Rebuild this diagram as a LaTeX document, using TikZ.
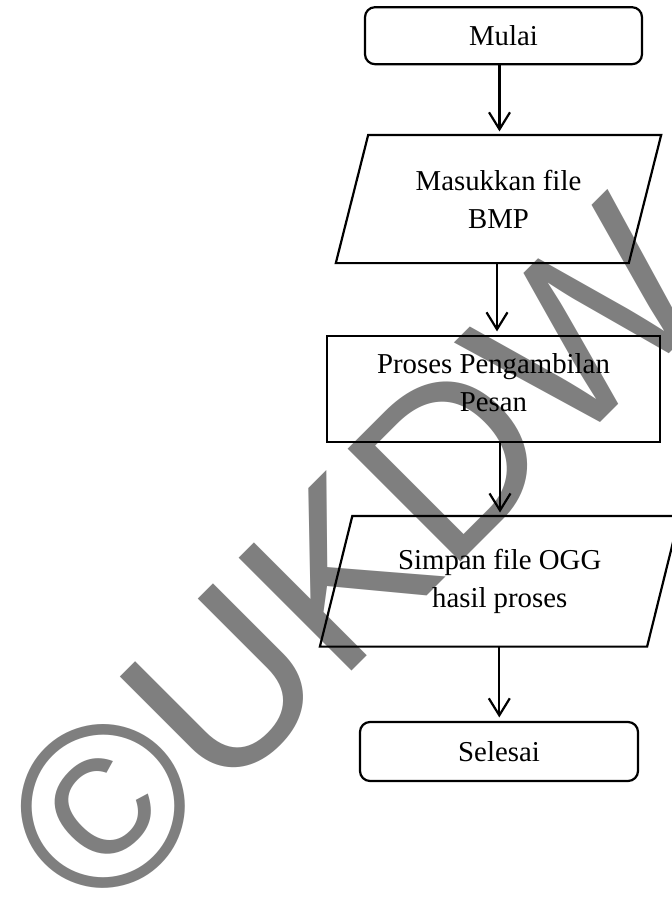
\documentclass[tikz,border=0pt]{standalone}
\usepackage{fontspec}
\setmainfont{Liberation Serif}
\newfontfamily\wmfont{Liberation Sans}
\usetikzlibrary{arrows.meta}
\definecolor{wmgray}{RGB}{127,127,127}
\tikzset{
  box/.style={draw=black, line width=2.2pt, align=center, inner sep=0pt,
    font=\fontsize{28.8}{38}\selectfont},
  roundbox/.style={box, rounded corners=10pt},
  iobox/.style={box, draw=none},
  iopath/.style={draw=black, line width=2.2pt, line join=miter},
  arr/.style={draw=black, line width=2.2pt, -{Straight Barb[length=17pt,width=21pt]}, shorten >=3.5pt},
  wm/.style={text=wmgray, inner sep=0pt, anchor=base west, rotate=45,
    font=\wmfont\fontsize{232}{232}\selectfont}
}
\begin{document}
\begin{tikzpicture}[x=1pt,y=-1pt]
\useasboundingbox (0,0) rectangle (672,897);
% watermark
\node[wm] (wmark) at (99,924) {©UKDW};
% nodes
\node[roundbox, minimum width=277pt, minimum height=57pt] (mulai) at (503.5,35.7) {Mulai};
\node[iobox, minimum width=290.8pt, minimum height=126pt] (in) at (498.5,199) {Masukkan file\\BMP};
\node[box, minimum width=333pt, minimum height=106pt, text depth=13.7pt] (proc) at (493.5,389) {Proses Pengambilan\\Pesan};
\node[iobox, minimum width=325pt, minimum height=128.4pt] (out) at (499.7,581.3) {Simpan file OGG\\hasil proses};
\node[roundbox, minimum width=278pt, minimum height=59pt] (selesai) at (499,751.5) {Selesai};
% parallelograms
\path[iopath] ([xshift=16.2pt]in.north west) -- ([xshift=16.2pt]in.north east)
  -- ([xshift=-16.2pt]in.south east) -- ([xshift=-16.2pt]in.south west) -- cycle;
\path[iopath] ([xshift=16.2pt]out.north west) -- ([xshift=16.2pt]out.north east)
  -- ([xshift=-16.2pt]out.south east) -- ([xshift=-16.2pt]out.south west) -- cycle;
% connector columns
\coordinate (c1) at (499.5,0);
\coordinate (c2) at (497,0);
\coordinate (c3) at (500,0);
\coordinate (c4) at (499.3,0);
% connectors
\draw[arr] (mulai.south -| c1) -- (in.north -| c1);
\draw[arr] (in.south -| c2) -- (proc.north -| c2);
\draw[arr] (proc.south -| c3) -- (out.north -| c3);
\draw[arr] (out.south -| c4) -- (selesai.north -| c4);
\end{tikzpicture}
\end{document}
